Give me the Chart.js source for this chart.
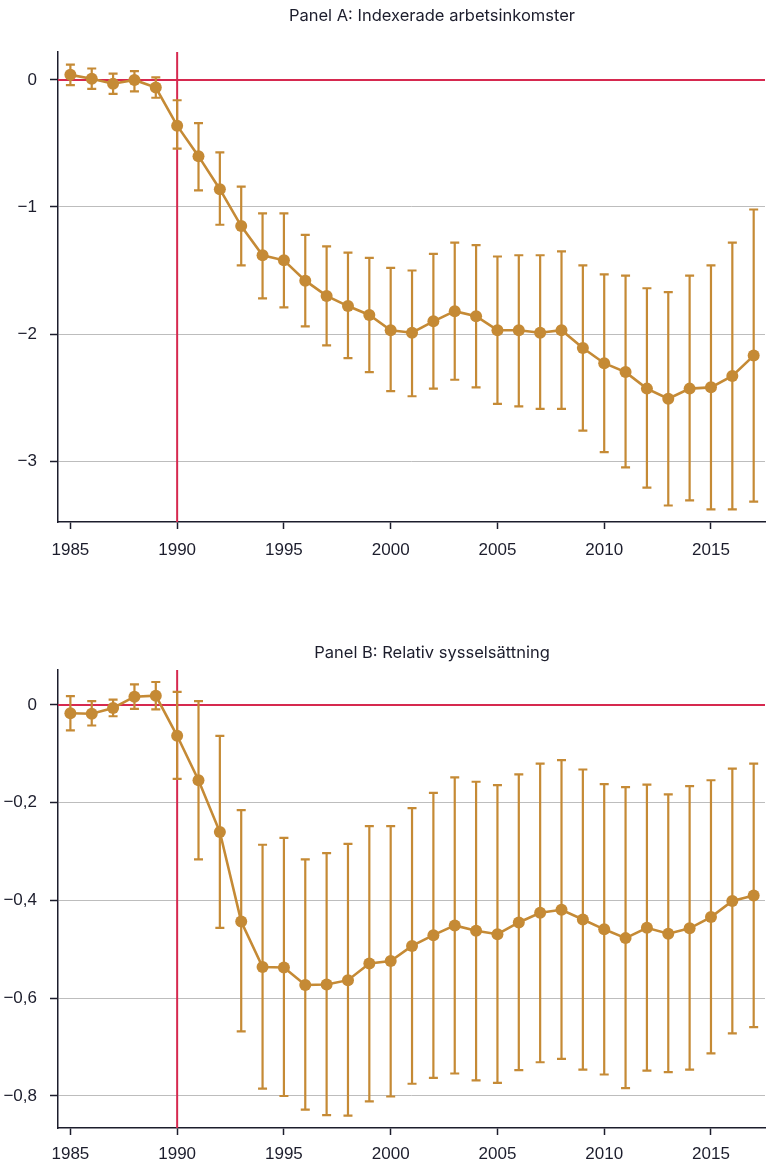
<!DOCTYPE html>
<html>
<head>
<meta charset="utf-8">
<script src="https://cdn.jsdelivr.net/npm/chart.js@4"></script>
<style>
 body{margin:0;background:#fff;}
 canvas{display:block;}
</style>
</head>
<body>
<canvas id="chartA" width="771" height="600"></canvas>
<canvas id="chartB" width="771" height="562"></canvas>
<script>
// data
var years=[1985,1986,1987,1988,1989,1990,1991,1992,1993,1994,1995,1996,1997,1998,1999,2000,2001,2002,2003,2004,2005,2006,2007,2008,2009,2010,2011,2012,2013,2014,2015,2016,2017];
var xTicks=[1985,1990,1995,2000,2005,2010,2015];

// Panel A: Indexerade arbetsinkomster
var incomeEst=[0.04,0.01,-0.03,0.00,-0.06,-0.36,-0.60,-0.86,-1.15,-1.38,-1.42,-1.58,-1.70,-1.78,-1.85,-1.97,-1.99,-1.90,-1.82,-1.86,-1.97,-1.97,-1.99,-1.97,-2.11,-2.23,-2.30,-2.43,-2.51,-2.43,-2.42,-2.33,-2.17];
var incomeHi=[0.12,0.09,0.05,0.07,0.02,-0.16,-0.34,-0.57,-0.84,-1.05,-1.05,-1.22,-1.31,-1.36,-1.40,-1.48,-1.50,-1.37,-1.28,-1.30,-1.39,-1.38,-1.38,-1.35,-1.46,-1.53,-1.54,-1.64,-1.67,-1.54,-1.46,-1.28,-1.02];
var incomeLo=[-0.04,-0.07,-0.11,-0.09,-0.14,-0.54,-0.87,-1.14,-1.46,-1.72,-1.79,-1.94,-2.09,-2.19,-2.30,-2.45,-2.49,-2.43,-2.36,-2.42,-2.55,-2.57,-2.59,-2.59,-2.76,-2.93,-3.05,-3.21,-3.35,-3.31,-3.38,-3.38,-3.32];
var incomeTicks=[-3,-2,-1,0];

// Panel B: Relativ sysselsättning
var emplEst=[-0.017,-0.018,-0.006,0.017,0.019,-0.063,-0.154,-0.260,-0.443,-0.536,-0.537,-0.573,-0.572,-0.563,-0.529,-0.524,-0.493,-0.471,-0.451,-0.462,-0.469,-0.445,-0.425,-0.419,-0.439,-0.459,-0.477,-0.456,-0.468,-0.457,-0.434,-0.401,-0.390];
var emplHi=[0.018,0.008,0.011,0.042,0.047,0.027,0.008,-0.063,-0.215,-0.286,-0.272,-0.316,-0.303,-0.284,-0.248,-0.248,-0.211,-0.180,-0.148,-0.157,-0.164,-0.142,-0.120,-0.113,-0.132,-0.162,-0.168,-0.163,-0.183,-0.166,-0.154,-0.130,-0.120];
var emplLo=[-0.052,-0.042,-0.023,-0.008,-0.009,-0.151,-0.316,-0.456,-0.668,-0.785,-0.800,-0.828,-0.839,-0.840,-0.811,-0.801,-0.775,-0.763,-0.754,-0.768,-0.773,-0.747,-0.731,-0.724,-0.746,-0.756,-0.784,-0.748,-0.751,-0.746,-0.713,-0.672,-0.659];
var emplTicks=[-0.8,-0.6,-0.4,-0.2,0];

var gold='#c58a35';
var red='#d6294f';
var ink='#1c1d2c';
var TICKFONT='"Liberation Sans", Arial, sans-serif';
var TITLEFONT='Inter, "Liberation Sans", sans-serif';

var extras={
 id:'extras',
 beforeDatasetsDraw:function(chart,args,o) {
  var c=chart.ctx, a=chart.chartArea, xs=chart.scales.x, ys=chart.scales.y;
  c.save();
  c.strokeStyle=red; c.lineWidth=2;
  var y0=ys.getPixelForValue(o.refY);
  c.beginPath(); c.moveTo(a.left,y0); c.lineTo(a.right,y0); c.stroke();
  var x0=xs.getPixelForValue(o.refX);
  c.beginPath(); c.moveTo(x0,a.top); c.lineTo(x0,a.bottom); c.stroke();
  c.strokeStyle=gold; c.lineWidth=2.2;
  for (var i=0; i<years.length; i++) {
   var x=xs.getPixelForValue(years[i]);
   var yt=ys.getPixelForValue(o.hi[i]), yb=ys.getPixelForValue(o.lo[i]);
   c.beginPath();
   c.moveTo(x,yt); c.lineTo(x,yb);
   c.moveTo(x-4.5,yt); c.lineTo(x+4.5,yt);
   c.moveTo(x-4.5,yb); c.lineTo(x+4.5,yb);
   c.stroke();
  }
  c.restore();
 },
 afterDraw:function(chart,args,o) {
  var c=chart.ctx;
  c.save();
  c.fillStyle=ink; c.font='16.5px '+TITLEFONT;
  c.textAlign='center'; c.textBaseline='middle';
  c.fillText(o.title,432,o.titleY);
  c.restore();
 }
};

function fmt(v) {
 var s=(Math.abs(v)<1e-9)?'0':String(Math.round(v*10)/10).replace('.',',');
 return s.replace('-','\u2212');
}

function makeChart(id,est,lo,hi,yMin,yMax,yTicks,title,titleY,padTop,xHeight,xPad) {
 var pts=[];
 for (var i=0; i<years.length; i++) {pts.push({x:years[i],y:est[i]});}
 return new Chart(document.getElementById(id),{
  type:'line',
  data:{datasets:[{data:pts, borderColor:gold, backgroundColor:gold, borderWidth:2.6,
   pointRadius:6, pointBackgroundColor:gold, pointBorderWidth:0, tension:0}]},
  options:{responsive:false, animation:false,
   layout:{padding:{top:padTop,right:0,left:0,bottom:0}},
   plugins:{legend:{display:false}, tooltip:{enabled:false},
    extras:{lo:lo, hi:hi, refX:1990, refY:0, title:title, titleY:titleY}},
   scales:{
    x:{type:'linear', min:1984.42, max:2017.53,
     afterBuildTicks:function(s){s.ticks=xTicks.map(function(v){return {value:v};});},
     afterFit:function(s){s.height=xHeight;},
     grid:{drawOnChartArea:false, drawTicks:true, tickLength:7, tickColor:ink, tickWidth:1.5},
     border:{display:true, color:ink, width:1.5},
     ticks:{color:ink, padding:xPad, maxRotation:0, font:{family:TICKFONT, size:17},
      callback:function(v){return String(v);}}
    },
    y:{min:yMin, max:yMax,
     afterBuildTicks:function(s){s.ticks=yTicks.map(function(v){return {value:v};});},
     afterFit:function(s){s.width=58;},
     grid:{color:'#bdbdbd', lineWidth:1, drawTicks:true, tickLength:8, tickColor:ink, tickWidth:1.5},
     border:{display:true, color:ink, width:1.5},
     ticks:{color:ink, padding:13, font:{family:TICKFONT, size:17}, callback:function(v){return fmt(v);}}
    }
   }
  },
  plugins:[extras]
 });
}

makeChart('chartA',incomeEst,incomeLo,incomeHi,-3.48,0.22,incomeTicks,'Panel A: Indexerade arbetsinkomster',16,52,78,11);
makeChart('chartB',emplEst,emplLo,emplHi,-0.8655,0.0716,emplTicks,'Panel B: Relativ sysselsättning',53,70,34,9);
</script>
</body>
</html>
